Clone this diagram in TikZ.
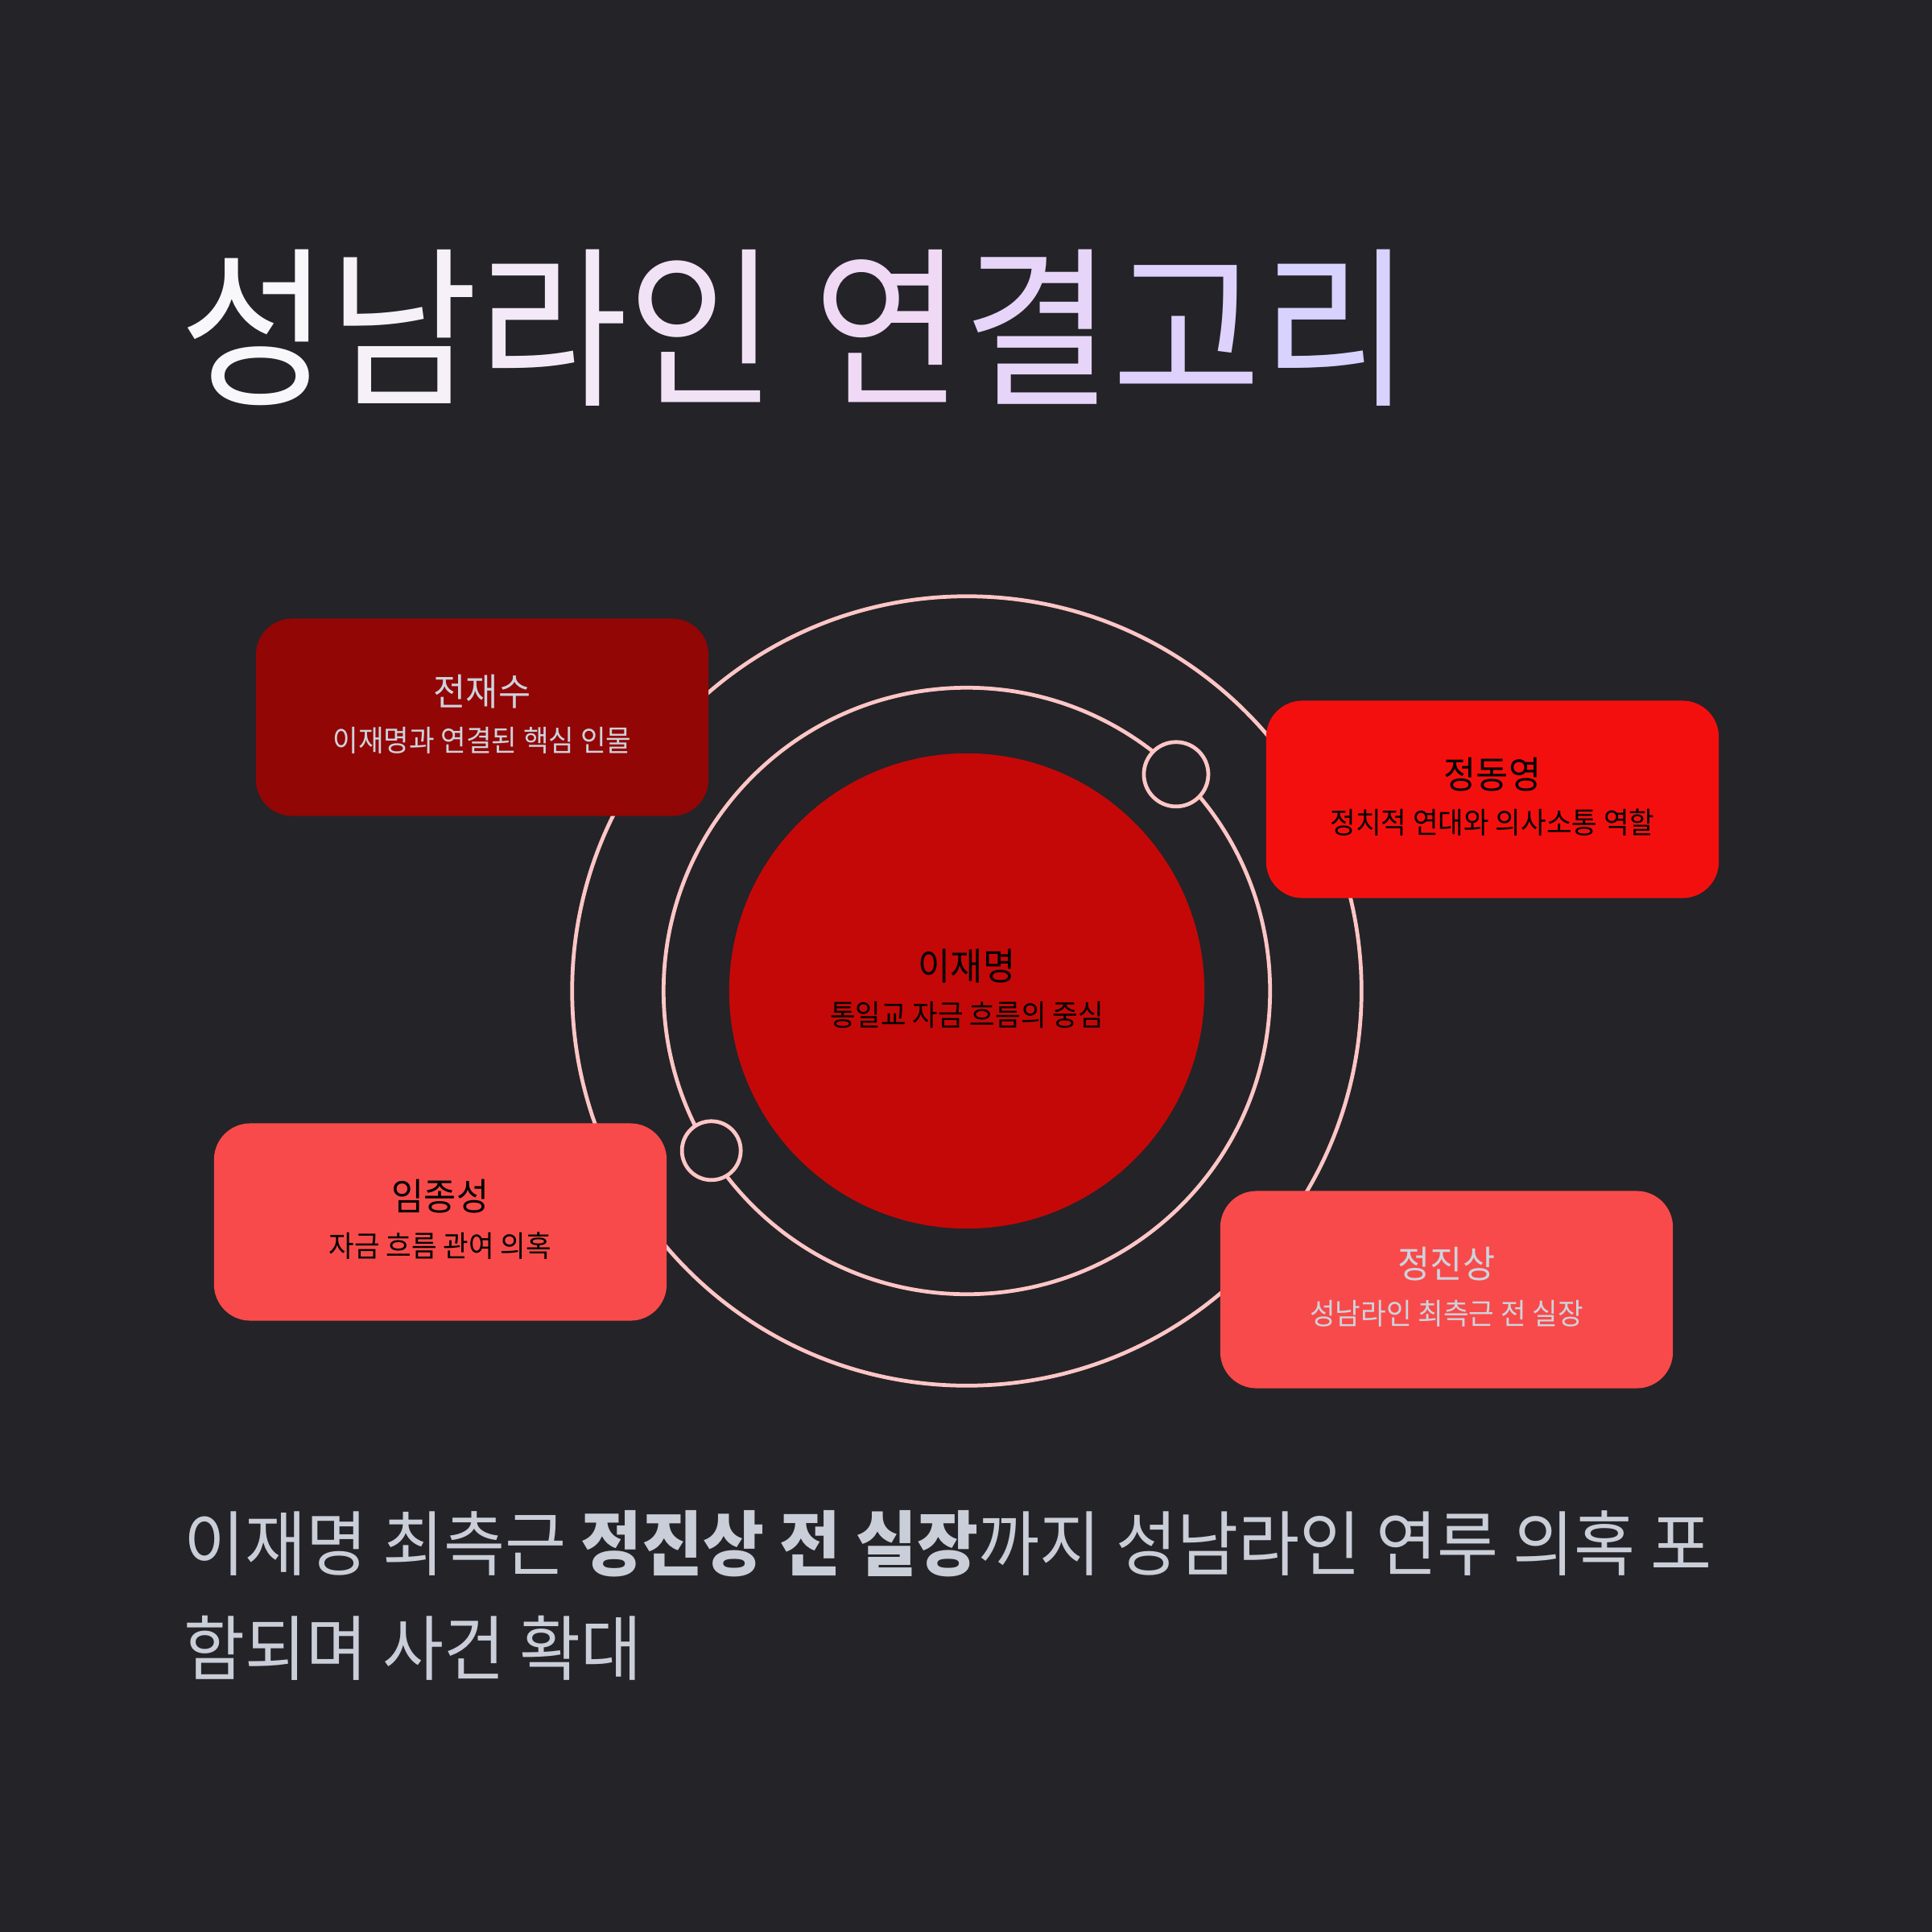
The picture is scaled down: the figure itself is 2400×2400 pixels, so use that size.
\documentclass[tikz,border=0pt]{standalone}
\usepackage{fontspec}
\setmainfont{Noto Sans CJK KR}[FakeStretch=0.94]
\usetikzlibrary{calc}
\definecolor{bgc}{HTML}{242328}
\definecolor{ringc}{HTML}{FFC6C6}
\definecolor{boxA}{HTML}{920606}
\definecolor{boxB}{HTML}{F40F0F}
\definecolor{boxC}{HTML}{F84A4A}
\definecolor{corec}{HTML}{C40808}
\definecolor{lighttxt}{HTML}{CDD3DC}
\definecolor{bottxt}{HTML}{C9CED8}
\definecolor{tA}{HTML}{F8F7FA}
\definecolor{tB}{HTML}{F6F0F8}
\definecolor{tC}{HTML}{F4EAF7}
\definecolor{tD}{HTML}{F2E2F6}
\definecolor{tE}{HTML}{EFD9F5}
\definecolor{tF}{HTML}{E7D5F9}
\definecolor{tG}{HTML}{DED2FD}
\definecolor{tH}{HTML}{D8D2FF}
\begin{document}
\begin{tikzpicture}[x=0.01cm,y=-0.01cm,
  ring/.style={circle,draw=ringc,line width=1.35pt,inner sep=0pt},
  orbdot/.style={circle,draw=ringc,fill=bgc,line width=1.35pt,inner sep=0pt},
  card/.style={rectangle,rounded corners=0.45cm,minimum width=5.62cm,minimum height=2.45cm,inner sep=0pt},
  cardtitle/.style={inner sep=0pt,font=\fontsize{13.2}{15}\selectfont},
  cardsub/.style={inner sep=0pt,font=\fontsize{10.4}{12}\selectfont}]
\fill[bgc] (0,0) rectangle (2400,2400);
\useasboundingbox (0,0) rectangle (2400,2400);

% title
\node[inner sep=0pt,font=\fontsize{61}{70}\selectfont] (title) at (988,407)
  {\textcolor{tA}{성}\textcolor{tB}{남}\textcolor{tC}{라}\textcolor{tD}{인} \textcolor{tE}{연}\textcolor{tF}{결}\textcolor{tG}{고}\textcolor{tH}{리}};

% rings
\node[ring,minimum size=9.8cm] (outer) at (1201,1231) {};
\node[ring,minimum size=7.53cm] (middle) at (1201,1231) {};
\node[circle,fill=corec,minimum size=5.9cm,inner sep=0pt] (core) at (1201,1231) {};
\node[cardtitle,text=black] (coret) at ([yshift=0.31cm]core.center) {이재명};
\node[cardsub,text=black] (cores) at ([yshift=-0.30cm]core.center) {통일교 자금 흐름의 중심};

% orbiting dots
\node[orbdot,minimum size=0.8cm] (dotA) at ($(core.center)+(46:3.74cm)$) {};
\node[orbdot,minimum size=0.73cm] (dotB) at ($(core.center)+(212:3.74cm)$) {};

% cards
\node[card,fill=boxA] (jjs) at (599,891) {};
\node[cardtitle,text=lighttxt] (jjst) at ([yshift=0.32cm]jjs.center) {전재수};
\node[cardsub,text=lighttxt] (jjss) at ([yshift=-0.29cm]jjs.center) {이재명과 연결된 핵심 인물};

\node[card,fill=boxB] (jdy) at (1854,993) {};
\node[cardtitle,text=black] (jdyt) at ([yshift=0.31cm]jdy.center) {정동영};
\node[cardsub,text=black] (jdys) at ([yshift=-0.29cm]jdy.center) {정치적 연대와 의사소통 역할};

\node[card,fill=boxC] (ijs) at (547,1518) {};
\node[cardtitle,text=black] (ijst) at ([yshift=0.32cm]ijs.center) {임종성};
\node[cardsub,text=black] (ijss) at ([yshift=-0.30cm]ijs.center) {자금 흐름 관여 의혹};

\node[card,fill=boxC] (jjsang) at (1797,1602) {};
\node[cardtitle,text=lighttxt] (jjsangt) at ([yshift=0.32cm]jjsang.center) {정진상};
\node[cardsub,text=lighttxt] (jjsangs) at ([yshift=-0.30cm]jjsang.center) {성남라인 최측근 전 실장};

% bottom text
\node[inner sep=0pt,anchor=north west,align=left,text=bottxt,
  font=\fontsize{25}{37}\selectfont] (caption) at (228,1876)
  {이재명 최측근 \textbf{정진상 전 실장}까지 성남라인 연루 의혹 포\\함되며 사건 확대};
\end{tikzpicture}
\end{document}
